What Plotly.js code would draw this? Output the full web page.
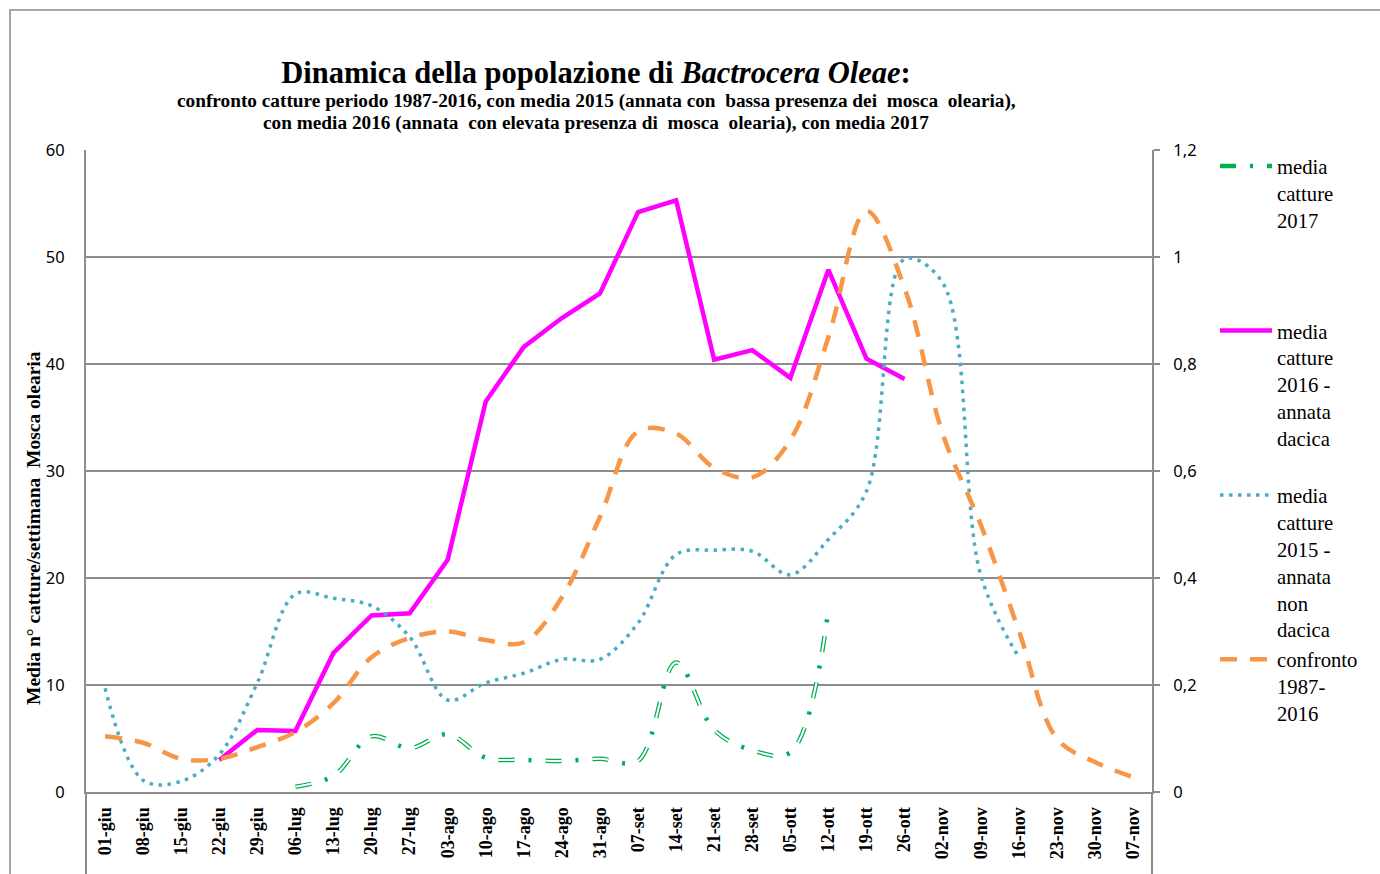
<!DOCTYPE html>
<html>
<head>
<meta charset="utf-8">
<script src="https://cdn.plot.ly/plotly-3.0.1.min.js"></script>
<style>html,body{margin:0;padding:0;background:#fff;}#chart{width:1380px;height:874px;}</style>
</head>
<body>
<div id="chart"></div>
<script>
// ---- data ----
const categories = ['01-giu','08-giu','15-giu','22-giu','29-giu','06-lug','13-lug','20-lug','27-lug','03-ago','10-ago','17-ago','24-ago','31-ago','07-set','14-set','21-set','28-set','05-ott','12-ott','19-ott','26-ott','02-nov','09-nov','16-nov','23-nov','30-nov','07-nov'];
const media2017 = [null,null,null,null,null,0.5,1.5,5.2,4.1,5.4,3.2,3.0,2.9,3.1,2.9,12.1,5.8,3.9,3.7,17.0,null,null,null,null,null,null,null,null];
const media2016 = [null,null,null,3.0,5.8,5.7,13.0,16.5,16.7,21.7,36.5,41.6,44.3,46.6,54.2,55.3,40.4,41.3,38.7,48.8,40.5,38.6,null,null,null,null,null,null];
const media2015 = [9.7,1.1,1.0,3.5,10.2,18.5,18.1,17.4,14.5,8.6,10.2,11.1,12.4,12.4,15.8,22.2,22.6,22.5,20.3,23.6,28.1,49.8,47.6,20.3,12.6,null,null,null];
const confronto = [5.2,4.6,3.1,3.1,4.2,5.6,8.3,12.6,14.4,15.0,14.2,14.0,18.2,25.7,33.7,33.5,30.3,29.4,32.9,42.5,54.3,47.1,33.5,25.0,15.1,5.0,2.8,1.4];
const names = {
  g: 'media<br>catture<br>2017<br> <br> <br> ',
  m: 'media<br>catture<br>2016 -<br>annata<br>dacica<br> ',
  b: 'media<br>catture<br>2015 -<br>annata<br>non<br>dacica',
  o: 'confronto<br>1987-<br>2016'
};
const rightTicks = [0,0.2,0.4,0.6,0.8,1,1.2];

const serif = 'Liberation Serif, Times New Roman, serif';
const sans = 'Noto Sans, Open Sans, sans-serif';

const traces = [
  {x: categories, y: media2017, name: names.g, type: 'scatter', mode: 'lines',
   line: {color: '#00B050', width: 4.5, dash: '16px,14px,3px,14px', shape: 'spline', smoothing: 1}},
  {x: categories, y: media2017, name: 'w', type: 'scatter', mode: 'lines', showlegend: false, hoverinfo: 'skip',
   line: {color: '#ffffff', width: 2, dash: '16px,31px', shape: 'spline', smoothing: 1}},
  {x: categories, y: media2016, name: names.m, type: 'scatter', mode: 'lines',
   line: {color: '#FF00FF', width: 4.5}},
  {x: categories, y: media2015, name: names.b, type: 'scatter', mode: 'lines',
   line: {color: '#4BACC6', width: 3.5, dash: '3.5px,5.5px', shape: 'spline', smoothing: 1}},
  {x: categories, y: confronto, name: names.o, type: 'scatter', mode: 'lines',
   line: {color: '#F79646', width: 4.5, dash: '17px,13px', shape: 'spline', smoothing: 1}},
  {x: [categories[0]], y: [null], yaxis: 'y2', type: 'scatter', mode: 'lines', showlegend: false, hoverinfo: 'skip'}
];

const px = v => (v - 86) / 1066;
const py = v => (792 - v) / 642;

const layout = {
  width: 1380, height: 874,
  paper_bgcolor: '#ffffff', plot_bgcolor: '#ffffff',
  separators: ', ',
  margin: {l: 86, r: 228, t: 150, b: 82, pad: 0},
  title: {
    text: '<b>Dinamica della popolazione di <i>Bactrocera Oleae</i>:</b>',
    font: {family: serif, size: 30.5, color: '#000'},
    xref: 'container', yref: 'container', x: 596/1380, y: 1 - 72/874,
    xanchor: 'center', yanchor: 'middle'
  },
  xaxis: {
    type: 'category', range: [-0.5, 27.5],
    showgrid: false, zeroline: false,
    showline: true, linecolor: '#8c8c8c', linewidth: 2,
    ticks: '', tickangle: -90, ticklabelstandoff: 6,
    tickfont: {family: serif, size: 18, color: '#000', weight: 'bold'}
  },
  yaxis: {
    range: [0, 60], dtick: 10, tick0: 0,
    showgrid: true, gridcolor: '#8c8c8c', gridwidth: 1.5,
    zeroline: false, showline: true, linecolor: '#8c8c8c', linewidth: 2,
    ticks: '', ticklabelstandoff: 16,
    tickfont: {family: sans, size: 16.5, color: '#000'}
  },
  yaxis2: {
    overlaying: 'y', side: 'right', range: [0, 1.2],
    tickvals: rightTicks,
    showgrid: false, zeroline: false, showline: true, linecolor: '#8c8c8c', linewidth: 2,
    ticks: 'outside', ticklen: 6, tickwidth: 1.5, tickcolor: '#8c8c8c', ticklabelstandoff: 10,
    tickfont: {family: sans, size: 16.5, color: '#000'}
  },
  showlegend: true,
  legend: {
    xref: 'container', yref: 'container',
    x: 1215/1380, y: 1 - 146/874, xanchor: 'left', yanchor: 'top',
    valign: 'top', itemwidth: 52, tracegroupgap: 0, maxheight: 860,
    bgcolor: 'rgba(0,0,0,0)', borderwidth: 0,
    font: {family: serif, size: 20.7, color: '#000'}
  },
  annotations: [
    {text: '<b>confronto catture periodo 1987-2016, con media 2015 (annata con  bassa presenza dei  mosca  olearia),</b>',
     xref: 'paper', yref: 'paper', x: px(596), y: py(101), xanchor: 'center', yanchor: 'middle',
     showarrow: false, font: {family: serif, size: 19.3, color: '#000'}},
    {text: '<b>con media 2016 (annata  con elevata presenza di  mosca  olearia), con media 2017</b>',
     xref: 'paper', yref: 'paper', x: px(596), y: py(123), xanchor: 'center', yanchor: 'middle',
     showarrow: false, font: {family: serif, size: 19.3, color: '#000'}},
    {text: '<b>Media n° catture/settimana  Mosca olearia</b>',
     xref: 'paper', yref: 'paper', x: px(33), y: py(528), xanchor: 'center', yanchor: 'middle',
     textangle: -90, showarrow: false, font: {family: serif, size: 19.5, color: '#000'}}
  ],
  shapes: [
    {type: 'rect', xref: 'paper', yref: 'paper', x0: px(10), x1: px(1500), y0: py(1000), y1: py(10),
     line: {color: '#a6a6a6', width: 2}, fillcolor: 'rgba(0,0,0,0)', layer: 'below'},
    {type: 'line', xref: 'paper', yref: 'paper', x0: 0, x1: 0, y0: 0, y1: py(880),
     line: {color: '#8c8c8c', width: 2}},
    {type: 'line', xref: 'paper', yref: 'paper', x0: 1, x1: 1, y0: 0, y1: py(880),
     line: {color: '#8c8c8c', width: 2}}
  ]
};

Plotly.newPlot('chart', traces, layout, {displayModeBar: false, staticPlot: true});
</script>
</body>
</html>
